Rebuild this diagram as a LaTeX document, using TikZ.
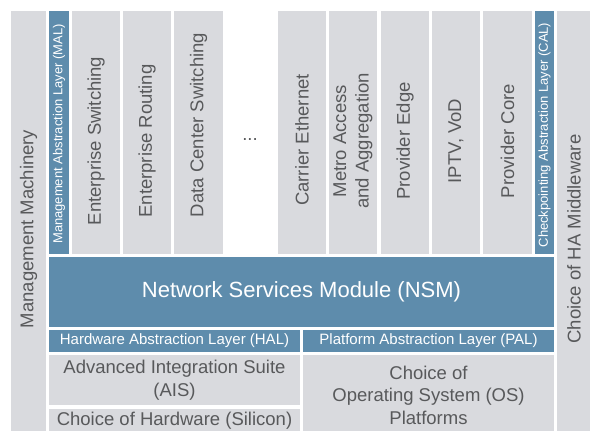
\documentclass[tikz,border=0pt]{standalone}
\usepackage{fontspec}
\setmainfont{Liberation Sans}
\definecolor{boxgray}{RGB}{217,218,222}
\definecolor{boxblue}{RGB}{94,140,172}
\definecolor{txtgray}{RGB}{88,89,91}
\tikzset{
  gbox/.style={fill=boxgray},
  bbox/.style={fill=boxblue},
  lbl/.style={text=txtgray, inner sep=0pt, align=center, font=\fontsize{18.5}{22.5}\selectfont},
  wlbl/.style={text=white, inner sep=0pt, align=center, font=\fontsize{15}{18}\selectfont},
  slbl/.style={text=white, inner sep=0pt, font=\fontsize{13}{15}\selectfont},
}
\begin{document}
\begin{tikzpicture}[x=1pt,y=-1pt]
\useasboundingbox (0,0) rectangle (590,431);

% side columns
\fill[gbox] (11,11) rectangle (46,431);
\node[lbl, rotate=90] (mm) at (28.5,229) {Management Machinery};
\fill[gbox] (557,11) rectangle (590,431);
\node[lbl, rotate=90] (ha) at (574,239) {Choice of HA Middleware};

% abstraction strips
\fill[bbox] (49,11) rectangle (69,254);
\node[slbl, rotate=90] (mal) at (59,134) {Management Abstraction Layer (MAL)};
\fill[bbox] (535,11) rectangle (554,254);
\node[slbl, rotate=90] (cal) at (544.5,135) {Checkpointing Abstraction Layer (CAL)};

% services
\fill[gbox] (72,11) rectangle (120,254);
\node[lbl, rotate=90] (es) at (96,141) {Enterprise Switching};
\fill[gbox] (123,11) rectangle (171,254);
\node[lbl, rotate=90] (er) at (147,141) {Enterprise Routing};
\fill[gbox] (174,11) rectangle (223,254);
\node[lbl, rotate=90] (dcs) at (198.5,125) {Data Center Switching};
\node[lbl] (dots) at (250,140) {...};
\fill[gbox] (278,11) rectangle (326,254);
\node[lbl, rotate=90] (ce) at (302,140) {Carrier Ethernet};
\fill[gbox] (329,11) rectangle (377,254);
\node[lbl, rotate=90] (metro) at (353,141) {Metro Access\\and Aggregation};
\fill[gbox] (381,11) rectangle (429,254);
\node[lbl, rotate=90] (pe) at (405,141) {Provider Edge};
\fill[gbox] (432,11) rectangle (480,254);
\node[lbl, rotate=90] (iptv) at (456,141) {IPTV, VoD};
\fill[gbox] (483,11) rectangle (532,254);
\node[lbl, rotate=90] (pc) at (507.5,141) {Provider Core};

% NSM
\fill[bbox] (49,257) rectangle (554,327);
\node[text=white, font=\fontsize{22}{26}\selectfont] (nsm) at (301.5,292) {Network Services Module (NSM)};

% HAL / PAL
\fill[bbox] (49,330) rectangle (300,352);
\node[wlbl] (hal) at (174.5,341) {Hardware Abstraction Layer (HAL)};
\fill[bbox] (303,330) rectangle (554,352);
\node[wlbl] (pal) at (428.5,341) {Platform Abstraction Layer (PAL)};

% bottom
\fill[gbox] (49,355) rectangle (300,405);
\node[lbl] (ais) at (174.5,380) {Advanced Integration Suite\\(AIS)};
\fill[gbox] (49,409) rectangle (300,431);
\node[lbl] (hw) at (174.5,421) {Choice of Hardware (Silicon)};
\fill[gbox] (303,355) rectangle (554,431);
\node[lbl] (os) at (428.5,395) {Choice of\\Operating System (OS)\\Platforms};
\end{tikzpicture}
\end{document}
